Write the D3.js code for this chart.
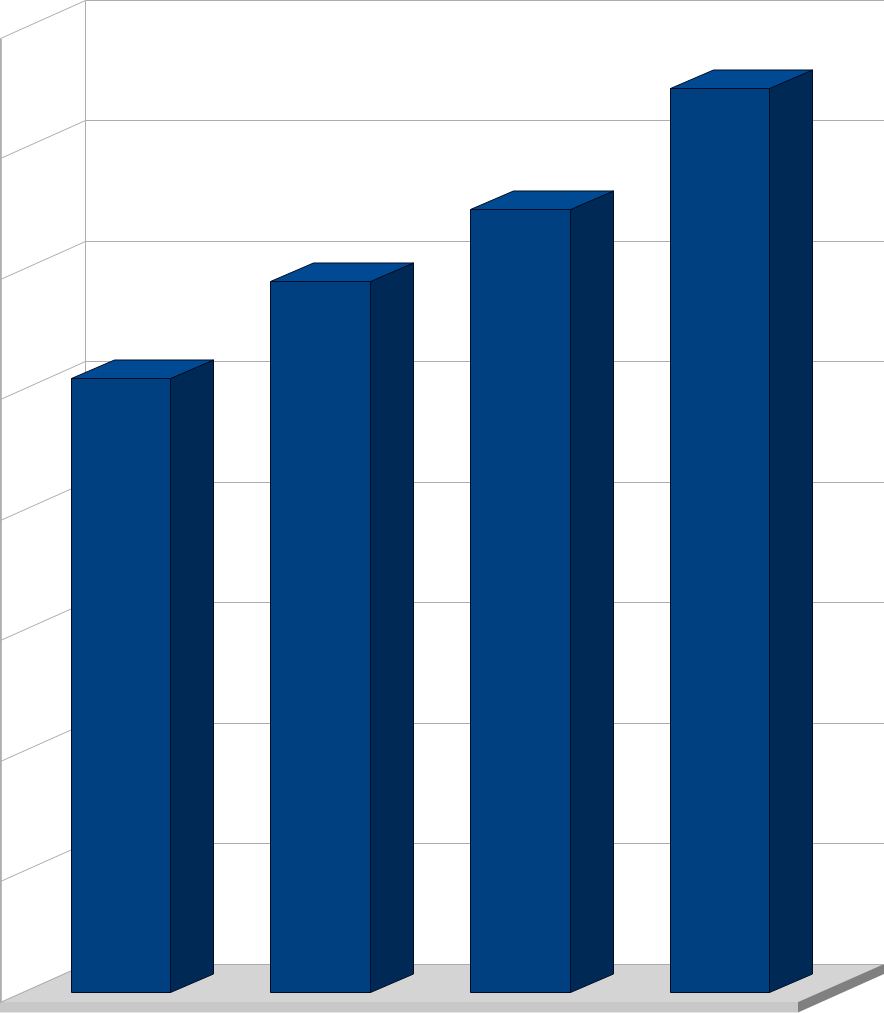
<!DOCTYPE html>
<html><head><meta charset="utf-8">
<style>html,body{margin:0;padding:0;background:#fff;overflow:hidden}svg{display:block}</style>
<script src="https://cdn.jsdelivr.net/npm/d3@7"></script>
</head><body><svg id="c" width="884" height="1013"></svg>
<script>
const categories = ["A","B","C","D"];
const seriesValues = [5.1, 5.905, 6.5, 7.505];
const tickValues = [0,1,2,3,4,5,6,7,8];

const W=884;
const svg=d3.select("#c");
const wallX=85.5, wallR=884, depthY=38;
const y=d3.scaleLinear().domain([0,8]).range([963.9,0]);
const x=d3.scaleBand().domain(categories).range([21.2,820.2]).paddingInner(.5).paddingOuter(.25);
const line=d3.line();
const colGrid="#adadad";
const py=v=>Math.round(y(v))+.5;

// floor
const fy=964;
svg.append("path").attr("d",line([[85,fy],[W,fy],[798,fy+38],[0,fy+38]])+"Z").attr("fill","#d4d4d4");
svg.append("path").attr("d",line([[0,fy+38],[798,fy+38],[798,fy+48.5],[0,fy+48.5]])+"Z").attr("fill","#c8c8c8");
svg.append("path").attr("d",line([[798,fy+38],[W,fy],[W,fy+10],[798,fy+48.5]])+"Z").attr("fill","#808080");

// walls: gridlines from the value axis ticks
const g=svg.append("g").attr("fill","none").attr("stroke",colGrid).attr("stroke-width",1);
g.selectAll("path.h").data(tickValues).join("path").attr("class","h")
 .attr("d",d=>line([[0.5,py(d)+depthY],[wallX,py(d)],[wallR,py(d)]]));
g.append("path").attr("d",line([[wallX,py(8)],[wallX,py(0)]]));
g.append("path").attr("stroke-width",2).attr("d",line([[0.8,py(8)+depthY],[0.8,py(0)+depthY]]));

// bars
const baseY=992.5, dx=43, dy=-18.5;
const scaleV=v=>y(0)-y(v);
const rows=categories.map((c,i)=>({c,v:seriesValues[i]}));
const geom=d=>({l:Math.floor(x(d.c))+.5,r:Math.round(x(d.c)+x.bandwidth())-.5,t:Math.round(baseY-scaleV(d.v))+.5});
const bars=svg.append("g").attr("stroke","#000c24").attr("stroke-width",1);
const gb=bars.selectAll("g").data(rows).join("g");
gb.append("path").attr("fill","#004080").attr("d",d=>{
  const {l,r,t}=geom(d);
  return line([[l,t],[r,t],[r,baseY],[l,baseY]])+"Z";});
gb.append("path").attr("fill","#002a55").attr("d",d=>{
  const {r,t}=geom(d);
  return line([[r,t],[r+dx,t+dy],[r+dx,baseY+dy],[r,baseY]])+"Z";});
gb.append("path").attr("fill","#004a94").attr("d",d=>{
  const {l,r,t}=geom(d);
  return line([[l,t],[l+dx,t+dy],[r+dx,t+dy],[r,t]])+"Z";});
</script></body></html>
